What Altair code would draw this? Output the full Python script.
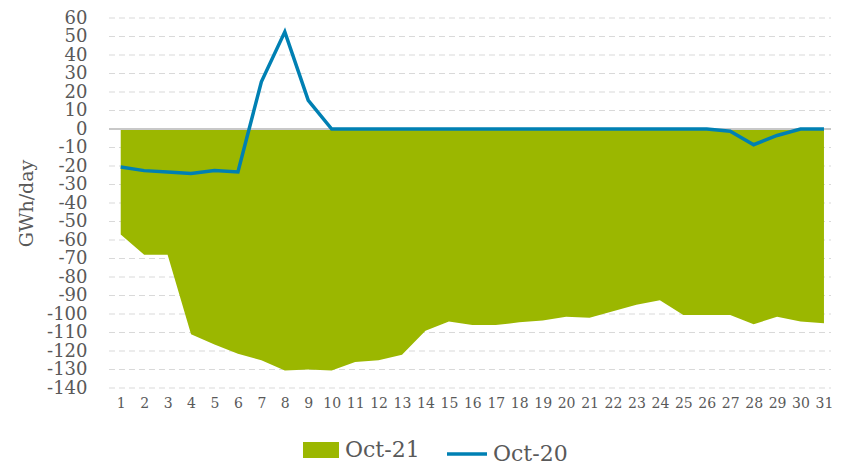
import altair as alt
import pandas as pd

days = list(range(1, 32))
oct21 = [-57, -68, -68, -111, -116.5, -121.5, -125, -130.5, -130, -130.5,
         -126, -125, -122, -109, -104, -106, -106, -104.5, -103.5, -101.5,
         -102, -98.5, -95, -92.5, -100.5, -100.5, -100.5, -105.5, -101.5, -104,
         -105]
oct20 = [-20.5, -22.5, -23.2, -24, -22.5, -23.2, 25.5, 52.5, 15.5, 0,
         0, 0, 0, 0, 0, 0, 0, 0, 0, 0,
         0, 0, 0, 0, 0, 0, -1.2, -8.5, -3.5, 0,
         0]
y_ticks = list(range(-140, 61, 10))

FONT = "DejaVu Serif"
GRAY = "#595959"
GREEN = "#9BB700"
BLUE = "#0080B3"
W, H = 722, 370

df21 = pd.DataFrame({"day": days, "value": oct21, "series": "Oct-21"})
df20 = pd.DataFrame({"day": days, "value": oct20, "series": "Oct-20"})

x_enc = alt.X("day:Q", scale=alt.Scale(domain=[0.5, 31.3], nice=False, zero=False),
              axis=alt.Axis(values=days, grid=False, domain=False, ticks=False,
                            labelFontSize=14, labelColor=GRAY, labelFont=FONT,
                            labelPadding=8, title=None, labelFlush=False,
                            labelOverlap=False))
y_scale = alt.Scale(domain=[-140, 60], nice=False, zero=False)
y_axis = alt.Axis(values=y_ticks, grid=False, domain=False, ticks=False,
                  labelFontSize=18, labelColor=GRAY, labelFont=FONT,
                  labelPadding=22, title="GWh/day", titleFont=FONT,
                  titleFontSize=19, titleColor=GRAY, titleFontWeight="normal",
                  titlePadding=10, labelFlush=False, labelOverlap=False,
                  labelExpr="datum.value < 0 ? '-' + abs(datum.value) : '' + datum.value")

grid = alt.Chart(pd.DataFrame({"v": [t for t in y_ticks if t != 0]})).mark_rule(
    color="#D9D9D9", strokeDash=[6, 4], strokeWidth=1
).encode(y=alt.Y("v:Q", scale=y_scale, axis=y_axis),
         x=alt.value(0), x2=alt.value(W))

area = alt.Chart(df21).mark_area(opacity=1).encode(
    x=x_enc,
    y=alt.Y("value:Q", scale=y_scale, axis=y_axis),
    fill=alt.Fill("series:N", scale=alt.Scale(domain=["Oct-21"], range=[GREEN]),
                  legend=alt.Legend(orient="none", legendX=194, legendY=414, title=None,
                                    symbolType="M-1,-0.44H1V0.44H-1Z", symbolSize=1296,
                                    symbolStrokeWidth=0, labelFontSize=22, labelFont=FONT,
                                    labelColor=GRAY, labelOffset=6)),
)

zero = alt.Chart(pd.DataFrame({"v": [0]})).mark_rule(color="#C8C8C8", strokeWidth=2).encode(
    y=alt.Y("v:Q", scale=y_scale, axis=y_axis), x=alt.value(0), x2=alt.value(W))

line = alt.Chart(df20).mark_line(strokeWidth=3.5).encode(
    x=x_enc,
    y=alt.Y("value:Q", scale=y_scale, axis=y_axis),
    stroke=alt.Stroke("series:N", scale=alt.Scale(domain=["Oct-20"], range=[BLUE]),
                      legend=alt.Legend(orient="none", legendX=336, legendY=414, title=None,
                                        symbolType="stroke", symbolSize=1600,
                                        symbolStrokeWidth=3.5, labelFontSize=22,
                                        labelFont=FONT, labelColor=GRAY, labelOffset=4)),
)

chart = alt.layer(grid, area, zero, line).resolve_scale(fill="independent", stroke="independent").properties(
    width=W, height=H,
    autosize=alt.AutoSizeParams(type="none"),
    padding={"left": 101, "top": 10, "right": 3, "bottom": 78},
).configure_view(stroke=None)

chart.save("out.html", embed_options={"renderer": "svg", "actions": False})
